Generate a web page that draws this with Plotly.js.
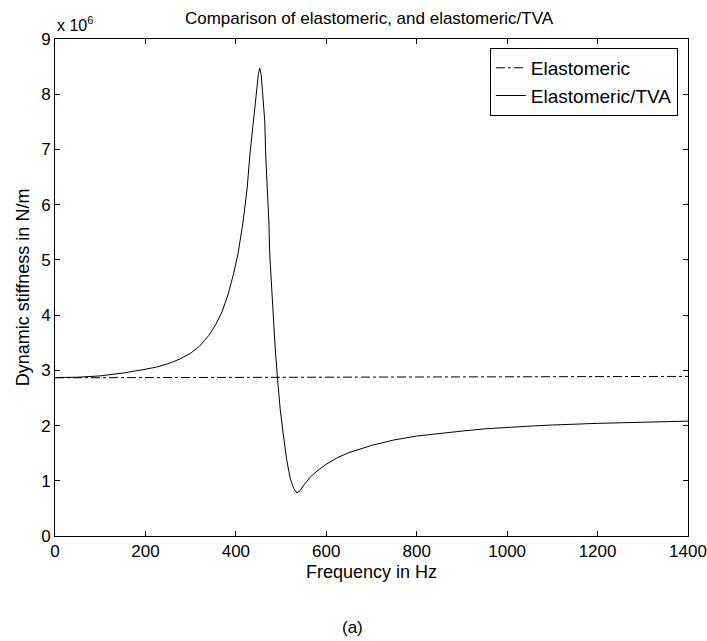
<!DOCTYPE html>
<html>
<head>
<meta charset="utf-8">
<script src="https://cdn.plot.ly/plotly-3.0.1.min.js"></script>
<style>html,body{margin:0;padding:0;background:#fff;}#chart{width:707px;height:641px;}</style>
</head>
<body>
<div id="chart"></div>
<script>
// Frequency (Hz) and dynamic stiffness (x 10^6 N/m)
var elastoFreq = [0, 700, 1400];
var elastoStiff = [2.865, 2.875, 2.89];

var tvaFreq = [0, 50, 100, 150, 200, 225, 250, 275, 300, 320, 340, 355, 370, 383, 395, 405, 416, 425, 431, 439, 446, 450, 453,
  456, 459, 464, 466, 470, 473, 475, 477, 482, 487, 492, 498, 504, 512, 520, 528, 535, 542, 550, 565, 580,
  600, 625, 650, 700, 750, 800, 850, 900, 950, 1000, 1050, 1100, 1150, 1200, 1250, 1300, 1350, 1400];
var tvaStiff = [2.87, 2.875, 2.90, 2.95, 3.02, 3.06, 3.12, 3.20, 3.31, 3.44, 3.63, 3.82, 4.07, 4.38, 4.75, 5.12, 5.69, 6.30, 6.90, 7.50, 8.11, 8.38, 8.47,
  8.35, 8.05, 7.50, 6.90, 6.30, 5.69, 5.09, 4.79, 4.00, 3.40, 2.87, 2.30, 1.90, 1.40, 1.05, 0.86, 0.78, 0.82, 0.92, 1.07, 1.18,
  1.30, 1.42, 1.51, 1.64, 1.74, 1.81, 1.86, 1.90, 1.94, 1.97, 1.99, 2.01, 2.03, 2.04, 2.05, 2.06, 2.07, 2.08];

var xTicks = [0, 200, 400, 600, 800, 1000, 1200, 1400];
var yTicks = [0, 1, 2, 3, 4, 5, 6, 7, 8, 9];

var FONT = 'Liberation Sans, Arial, sans-serif';

var traces = [
  {x: elastoFreq, y: elastoStiff, mode: 'lines', name: 'Elastomeric',
   line: {color: '#000', width: 1, dash: 'dashdot'}},
  {x: tvaFreq, y: tvaStiff, mode: 'lines', name: 'Elastomeric/TVA',
   line: {color: '#000', width: 1}}
];

var layout = {
  width: 707, height: 641,
  margin: {l: 55, r: 19, t: 39, b: 105},
  paper_bgcolor: '#fff', plot_bgcolor: '#fff',
  font: {family: FONT, size: 17, color: '#000'},
  title: {text: 'Comparison of elastomeric, and elastomeric/TVA', x: 0.522, xanchor: 'center',
          y: 0.972, yanchor: 'middle', font: {family: FONT, size: 17, color: '#000'}},
  xaxis: {range: [0, 1400], tickvals: xTicks, ticks: 'inside', ticklen: 5, tickcolor: '#000',
          showline: true, linecolor: '#000', linewidth: 1, mirror: 'ticks', showgrid: false, zeroline: false,
          tickfont: {family: FONT, size: 17}, title: {text: 'Frequency in Hz', font: {family: FONT, size: 18}, standoff: 4}},
  yaxis: {range: [0, 9], tickvals: yTicks, ticks: 'inside', ticklen: 5, tickcolor: '#000',
          showline: true, linecolor: '#000', linewidth: 1, mirror: 'ticks', showgrid: false, zeroline: false,
          tickfont: {family: FONT, size: 17}, title: {text: 'Dynamic stiffness in N/m', font: {family: FONT, size: 18}, standoff: 6}},
  showlegend: true,
  legend: {x: 0.984, y: 0.982, xanchor: 'right', yanchor: 'top', bgcolor: '#fff',
           bordercolor: '#000', borderwidth: 1, font: {family: FONT, size: 19}, tracegroupgap: 0},
  annotations: [
    {text: 'x 10<sup>6</sup>', xref: 'paper', yref: 'paper', x: 0, y: 1, xanchor: 'left', yanchor: 'bottom',
     yshift: 3, showarrow: false, font: {family: FONT, size: 16}},
    {text: '(a)', xref: 'paper', yref: 'paper', x: 0.47, y: 0, yshift: -80, xanchor: 'center', yanchor: 'top',
     showarrow: false, font: {family: FONT, size: 17}}
  ]
};

Plotly.newPlot('chart', traces, layout, {displayModeBar: false, staticPlot: true});
</script>
</body>
</html>
